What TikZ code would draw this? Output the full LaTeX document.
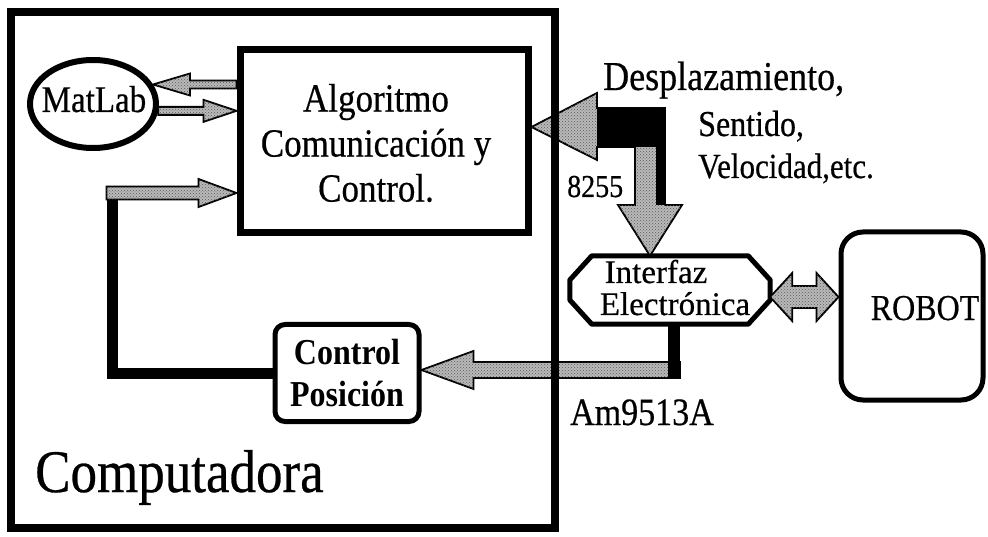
\documentclass[tikz,border=0pt]{standalone}
\usepackage{fontspec}
\usepackage{graphicx}
\setmainfont{Liberation Serif}
\newfontfamily\hv{Liberation Serif}[FakeBold=0.5]
\usetikzlibrary{calc,patterns,shapes.geometric}
\newcommand\fs[2]{\fontsize{#1}{#2}\selectfont}
\newcommand\vs[1]{\scalebox{1}[1.14]{#1}}
% block arrow: [style]{start}{tip}{shaft half}{head half}{head length}
\newcommand\blockarr[6][]{%
  \coordinate (bactmp) at ($(#3)!#6!(#2)$);
  \path[#1] ($(#2)!#4!90:(#3)$) -- ($(bactmp)!#4!90:(#3)$) -- ($(bactmp)!#5!90:(#3)$) -- (#3)
     -- ($(bactmp)!#5!-90:(#3)$) -- ($(bactmp)!#4!-90:(#3)$) -- ($(#2)!#4!-90:(#3)$) -- cycle;}
\tikzset{
  every node/.style={inner sep=0pt},
  hatch/.style={draw=black, line width=1.8pt, line join=miter, fill=gray!55,
    postaction={pattern=crosshatch dots, pattern color=black!65}},
  txt/.style={anchor=base west},
}
\begin{document}
\begin{tikzpicture}[x=1pt,y=-1pt]
\useasboundingbox (0,0) rectangle (988,537);
\fill[white] (0,0) rectangle (988,537);

% nodes
\node[draw, line width=7pt, minimum width=288pt, minimum height=183pt] (alg) at (384,141) {};
\node[font=\hv\fs{35}{45}, align=center] (algtxt) at (376,143) {\vs{Algoritmo}\\\vs{Comunicación y}\\\vs{Control.}};

\node[draw, ellipse, line width=6pt, minimum width=126pt, minimum height=88pt] (mat) at (93,104) {};
\node[font=\hv\fs{33}{33}, anchor=base] (matT) at (94,112) {\vs{MatLab}};

\node[draw, rounded corners=10pt, line width=5pt, minimum width=144pt, minimum height=97pt,
      font=\bfseries\fs{32}{42}, align=center] (cp) at (347,373) {\vs{Control}\\\vs{Posición}};

\node[minimum width=200pt, minimum height=68pt] (intf) at (670,290) {};
\draw[line width=5pt, line join=round]
  ($(intf.north west)+(22,0)$) -- ($(intf.north east)+(-22,0)$) -- ($(intf.east)+(0,-10)$)
  -- ($(intf.east)+(0,10)$) -- ($(intf.south east)+(-22,0)$) -- ($(intf.south west)+(22,0)$)
  -- ($(intf.west)+(0,10)$) -- ($(intf.west)+(0,-10)$) -- cycle;
\node[font=\hv\fs{33}{33}, anchor=base] (intfA) at (656,283) {Interfaz};
\node[font=\hv\fs{33}{33}, anchor=base] (intfB) at (675,315) {Electrónica};

\node[draw, rounded corners=22pt, line width=5pt, minimum width=142pt, minimum height=168pt] (rob) at (912,316) {};
\node[font=\hv\fs{32}{32}, anchor=base] (robT) at (925,320) {\vs{ROBOT}};

% labels
\node[font=\hv\fs{36}{36}, txt] (desp) at (603,90) {\vs{Desplazamiento,}};
\node[font=\hv\fs{32}{32}, txt] (sent) at (698,136) {\vs{Sentido,}};
\node[font=\hv\fs{31}{31}, txt] (velo) at (698,178) {\vs{Velocidad,etc.}};
\node[font=\hv\fs{28}{28}, txt] (n8255) at (567,197) {\vs{8255}};
\node[font=\hv\fs{34}{34}, txt] (am) at (570,425) {\vs{Am9513A}};
\node[font=\hv\fs{53}{53}, txt] (compT) at (35,492) {\vs{Computadora}};

% MatLab <-> Algoritmo
\coordinate (u0) at (mat.18 -| alg.west);
\blockarr[hatch]{u0}{mat.18}{4pt}{11pt}{37pt}
\coordinate (l1) at (mat.-6 -| alg.west);
\blockarr[hatch]{mat.-6}{l1}{4pt}{11pt}{33pt}

% feedback Control Posicion -> Algoritmo
\coordinate (fbk) at (112,187);
\draw[line width=11pt] (cp.west) -| (fbk);
\coordinate (fbs) at (106.5,193);
\coordinate (fbe) at (fbs -| alg.west);
\blockarr[hatch]{fbs}{fbe}{6.5pt}{14pt}{38pt}

% Am9513A: Interfaz -> Control Posicion
\coordinate (ams) at (680,370);
\coordinate (ame) at (ams -| cp.east);
\blockarr[hatch]{ams}{ame}{8pt}{19pt}{52pt}
\coordinate (amc) at (674,378);
\draw[line width=12pt] (amc |- intf.south) -- (amc);

% 8255: Algoritmo <-> Interfaz (bent)
\coordinate (k) at (650,127);
\coordinate (kL) at (alg.east |- k);
\coordinate (kD) at (intf.north -| k);
\path[hatch] (kL) -- ($(k)+(-53,-34)$) -- ($(k)+(-53,-19)$) -- ($(k)+(15,-19)$) -- ($(k)+(15,78)$)
  -- ($(k)+(32,78)$) -- (kD) -- ($(k)+(-32,78)$) -- ($(k)+(-15,78)$) -- ($(k)+(-15,20)$)
  -- ($(k)+(-53,20)$) -- ($(k)+(-53,33)$) -- cycle;
\fill ($(k)+(-53,-19)$) rectangle ($(k)+(15,20)$);
\fill ($(k)+(6,20)$) rectangle ($(k)+(15,78)$);

% Interfaz <-> ROBOT
\coordinate (dd) at (805,297);
\coordinate (ddL) at (dd -| intf.east);
\coordinate (ddR) at (dd -| rob.west);
\path[hatch] (ddL) -- ++(22,-24) -- ++(0,13) -- ($(ddR)+(-22,-11)$) -- ++(0,-13) -- (ddR)
  -- ++(-22,24) -- ++(0,-13) -- ($(ddL)+(22,11)$) -- ++(0,13) -- cycle;

% outer computer box (drawn last)
\node[draw, line width=8pt, minimum width=544pt, minimum height=516pt] (comp) at (283,270) {};
\end{tikzpicture}
\end{document}
